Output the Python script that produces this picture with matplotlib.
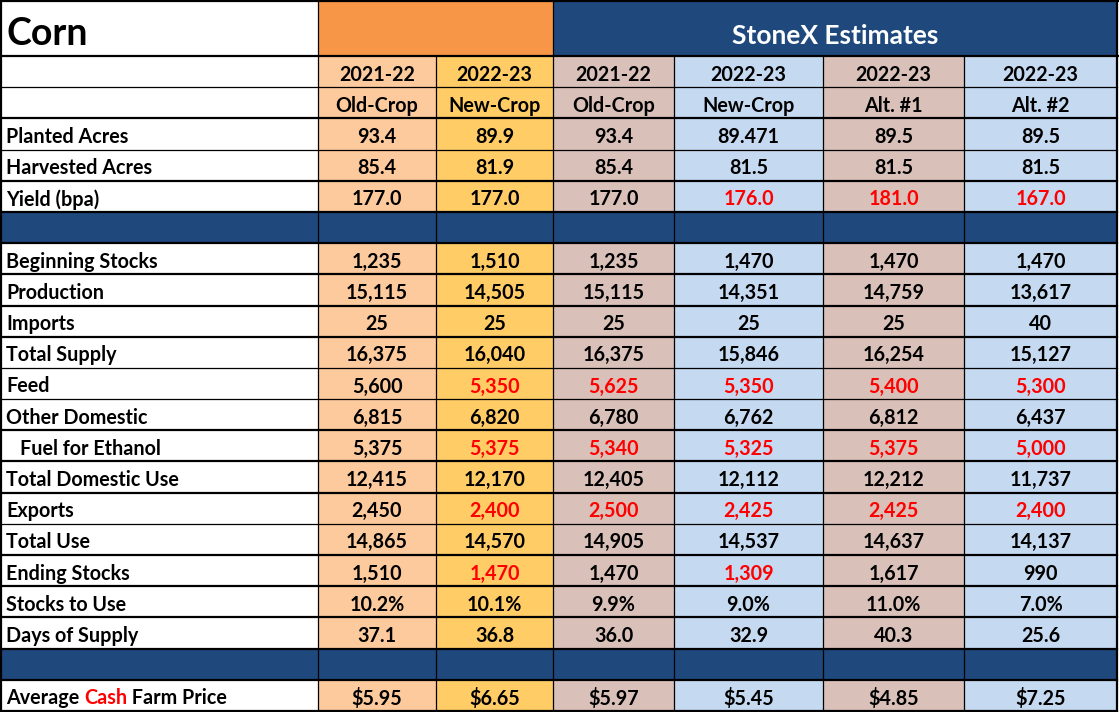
import matplotlib
matplotlib.use("Agg")
import matplotlib.pyplot as plt
from matplotlib.patches import Rectangle

# ---------------- data ----------------
title = "Corn"
group_title = "StoneX Estimates"
col_years = ["2021-22", "2022-23", "2021-22", "2022-23", "2022-23", "2022-23"]
col_subs = ["Old-Crop", "New-Crop", "Old-Crop", "New-Crop", "Alt. #1", "Alt. #2"]

row_labels = ["Planted Acres", "Harvested Acres", "Yield (bpa)", None,
              "Beginning Stocks", "Production", "Imports", "Total Supply", "Feed",
              "Other Domestic", "  Fuel for Ethanol", "Total Domestic Use", "Exports",
              "Total Use", "Ending Stocks", "Stocks to Use", "Days of Supply", None,
              "Average Cash Farm Price"]

usda_old = ["93.4", "85.4", "177.0", None, "1,235", "15,115", "25", "16,375", "5,600",
            "6,815", "5,375", "12,415", "2,450", "14,865", "1,510", "10.2%", "37.1", None, "$5.95"]
usda_new = ["89.9", "81.9", "177.0", None, "1,510", "14,505", "25", "16,040", "5,350",
            "6,820", "5,375", "12,170", "2,400", "14,570", "1,470", "10.1%", "36.8", None, "$6.65"]
stx_old = ["93.4", "85.4", "177.0", None, "1,235", "15,115", "25", "16,375", "5,625",
           "6,780", "5,340", "12,405", "2,500", "14,905", "1,470", "9.9%", "36.0", None, "$5.97"]
stx_new = ["89.471", "81.5", "176.0", None, "1,470", "14,351", "25", "15,846", "5,350",
           "6,762", "5,325", "12,112", "2,425", "14,537", "1,309", "9.0%", "32.9", None, "$5.45"]
stx_alt1 = ["89.5", "81.5", "181.0", None, "1,470", "14,759", "25", "16,254", "5,400",
            "6,812", "5,375", "12,212", "2,425", "14,637", "1,617", "11.0%", "40.3", None, "$4.85"]
stx_alt2 = ["89.5", "81.5", "167.0", None, "1,470", "13,617", "40", "15,127", "5,300",
            "6,437", "5,000", "11,737", "2,400", "14,137", "990", "7.0%", "25.6", None, "$7.25"]

# red-highlighted cells: (row index, column index 0..5)
red_cells = [(2, 3), (2, 4), (2, 5),
             (8, 1), (8, 2), (8, 3), (8, 4), (8, 5),
             (10, 1), (10, 2), (10, 3), (10, 4), (10, 5),
             (12, 1), (12, 2), (12, 3), (12, 4), (12, 5),
             (14, 1), (14, 3)]

columns = [usda_old, usda_new, stx_old, stx_new, stx_alt1, stx_alt2]

# ---------------- styles / layout ----------------
W, H = 1119, 712
col_edges = [1, 318, 436, 553, 674, 823, 964, 1117]
title_h = 56
top = 1
bottom = 711
n_rows = 21  # 2 header rows + 19 body rows
row_h = (bottom - title_h) / n_rows

NAVY = "#1F497D"
ORANGE = "#F79646"
col_fill = ["#FDCA9D", "#FFCC66", "#D9C1B9", "#C5D9F1", "#D9C1B9", "#C5D9F1"]
RED = "#FF0000"
FONT = ["Lato", "DejaVu Sans"]
FS = 14.2

fig = plt.figure(figsize=(W / 100, H / 100), dpi=100)
ax = fig.add_axes([0, 0, 1, 1])
ax.set_xlim(0, W)
ax.set_ylim(H, 0)
ax.axis("off")

def rect(x0, y0, x1, y1, color):
    ax.add_patch(Rectangle((x0, y0), x1 - x0, y1 - y0, facecolor=color,
                           edgecolor="none", zorder=1))

def txt(x, y, s, ha="center", color="black", size=FS, **kw):
    return ax.text(x, y, s, ha=ha, va="center_baseline", color=color, fontsize=size,
                   fontweight="bold", family=FONT, zorder=5, **kw)

# title row
rect(col_edges[0], top, col_edges[1], title_h, "white")
rect(col_edges[1], top, col_edges[3], title_h, ORANGE)
rect(col_edges[3], top, col_edges[7], title_h, NAVY)
txt(7, title_h / 2 + 3, title, ha="left", size=27)
txt((col_edges[3] + col_edges[7]) / 2, title_h / 2 + 6, group_title, color="white", size=19)

def row_y(i):
    return title_h + i * row_h

# header rows
for r, labels in enumerate([col_years, col_subs]):
    y0, y1 = row_y(r), row_y(r + 1)
    rect(col_edges[0], y0, col_edges[1], y1, "white")
    for c in range(6):
        rect(col_edges[c + 1], y0, col_edges[c + 2], y1, col_fill[c])
        txt((col_edges[c + 1] + col_edges[c + 2]) / 2, (y0 + y1) / 2 + 1, labels[c])

# body rows
red_set = set(red_cells)
fig.canvas.draw()
renderer = fig.canvas.get_renderer()
for i, lab in enumerate(row_labels):
    y0, y1 = row_y(i + 2), row_y(i + 3)
    ym = (y0 + y1) / 2 + 1
    if lab is None:
        rect(col_edges[0], y0, col_edges[7], y1, NAVY)
        continue
    rect(col_edges[0], y0, col_edges[1], y1, "white")
    if lab == "Average Cash Farm Price":
        parts = [("Average ", "black"), ("Cash", RED), (" Farm Price", "black")]
        x = 6
        for s, colr in parts:
            t = txt(x, ym, s, ha="left", color=colr)
            bb = t.get_window_extent(renderer=renderer)
            x += bb.width
    else:
        x = 6
        if lab.startswith("  "):
            x = 20
        txt(x, ym, lab.strip(), ha="left")
    for c in range(6):
        rect(col_edges[c + 1], y0, col_edges[c + 2], y1, col_fill[c])
        colr = RED if (i, c) in red_set else "black"
        txt((col_edges[c + 1] + col_edges[c + 2]) / 2, ym, columns[c][i], color=colr)

# grid lines
thin = 0.9
thick = 1.6
# horizontal
ax.plot([0, W], [top, top], color="black", lw=thick, zorder=6)
ax.plot([0, W], [title_h, title_h], color="black", lw=thick, zorder=6)
thin_rows = {1, 3, 10, 11, 15}
for k in range(1, n_rows + 1):
    y = row_y(k)
    ax.plot([col_edges[0], col_edges[7]], [y, y], color="black",
            lw=thin if k in thin_rows else thick, zorder=6)
# vertical
ax.plot([col_edges[0], col_edges[0]], [top, bottom], color="black", lw=thick, zorder=6)
ax.plot([col_edges[7], col_edges[7]], [top, bottom], color="black", lw=thick, zorder=6)
ax.plot([col_edges[1], col_edges[1]], [top, bottom], color="black", lw=thin, zorder=6)
ax.plot([col_edges[3], col_edges[3]], [top, bottom], color="black", lw=thin, zorder=6)
for c in [2, 4, 5, 6]:
    ax.plot([col_edges[c], col_edges[c]], [title_h, bottom], color="black", lw=thin, zorder=6)

fig.savefig("out.png", dpi=100)
